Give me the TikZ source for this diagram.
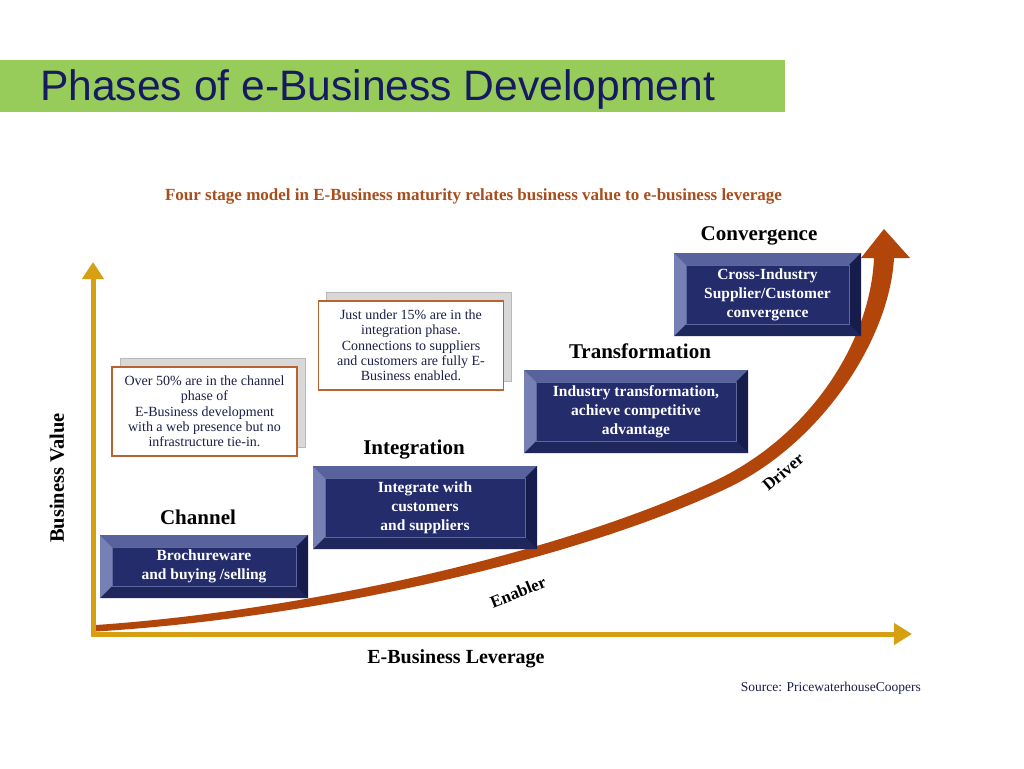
\documentclass[tikz,border=0pt]{standalone}
\usepackage{fontspec}
\setmainfont{Liberation Serif}
\newfontfamily\titlefont{Liberation Sans}
\usetikzlibrary{arrows.meta,positioning,shadows}
\definecolor{barGreen}{RGB}{152,204,90}
\definecolor{titleBlue}{RGB}{22,26,96}
\definecolor{subBrown}{RGB}{168,78,28}
\definecolor{axisGold}{RGB}{214,160,18}
\definecolor{curveRust}{RGB}{178,70,10}
\definecolor{phaseFace}{RGB}{36,44,108}
\definecolor{bevTop}{RGB}{88,98,156}
\definecolor{bevLeft}{RGB}{118,128,180}
\definecolor{bevRight}{RGB}{22,28,76}
\definecolor{bevBot}{RGB}{30,38,92}
\definecolor{noteBorder}{RGB}{184,100,50}
\definecolor{noteText}{RGB}{28,30,72}
\definecolor{shadowGray}{RGB}{216,216,216}
\def \bv {12pt}
\tikzstyle{phase} = [inner sep=0,fill=phaseFace,text=white,align=center,
  font=\bfseries\fontsize{15.5}{19}\selectfont,
  path picture={
    \coordinate (nw) at (path picture bounding box.north west);
    \coordinate (ne) at (path picture bounding box.north east);
    \coordinate (sw) at (path picture bounding box.south west);
    \coordinate (se) at (path picture bounding box.south east);
    \coordinate (inw) at ([xshift=\bv,yshift=-\bv]nw);
    \coordinate (ine) at ([xshift=-\bv,yshift=-\bv]ne);
    \coordinate (isw) at ([xshift=\bv,yshift=\bv]sw);
    \coordinate (ise) at ([xshift=-\bv,yshift=\bv]se);
    \fill[bevTop] (nw) -- (ne) -- (ine) -- (inw) -- cycle;
    \fill[bevRight] (ne) -- (se) -- (ise) -- (ine) -- cycle;
    \fill[bevBot] (se) -- (sw) -- (isw) -- (ise) -- cycle;
    \fill[bevLeft] (sw) -- (nw) -- (inw) -- (isw) -- cycle;
    \draw[bevLeft!70!phaseFace,thin] (inw) rectangle (ise);
  }]
\tikzstyle{stage} = [inner sep=0,font=\bfseries\fontsize{21}{24}\selectfont]
\tikzstyle{note} = [draw=noteBorder,line width=1.3pt,fill=white,text=noteText,align=center,
  inner sep=2pt,minimum width=185pt,minimum height=89pt,
  font=\fontsize{14}{15.3}\selectfont,
  copy shadow={shadow xshift=8pt,shadow yshift=9pt,fill=shadowGray,draw=gray!55,line width=0.6pt}]
\tikzstyle{axis} = [axisGold,line width=5pt,{Triangle[width=21pt,length=17pt]}-{Triangle[width=21pt,length=18pt]}]

\begin{document}
\begin{tikzpicture}[x=1pt,y=-1pt]
  \fill[white] (0,0) rectangle (1024,768);
  \useasboundingbox (0,0) rectangle (1024,768);
  \fill[barGreen] (0,60) rectangle (785,112);
  \node[anchor=base west,inner sep=0,text=titleBlue,font=\titlefont\fontsize{42.6}{46}\selectfont] (title) at (40,100) {Phases of e-Business Development};
  \node[anchor=base,inner sep=0,text=subBrown,font=\bfseries\fontsize{17}{20}\selectfont] (subtitle) at (473.5,200) {Four stage model in E-Business maturity relates business value to e-business leverage};

  % growth arrow, widening towards its head, under the axes
  \fill[curveRust] (96,625) .. controls (299,611) and (558,555) .. (717.5,479.6)
    .. controls (812.8,433.2) and (870.5,339.5) .. (874,258) -- (861,258) -- (884,229)
    -- (910,258) -- (894,258) .. controls (889.5,340.5) and (819.2,446.8) .. (722.5,490.4)
    .. controls (562,565) and (301,619) .. (96,631.5) -- cycle;

  \coordinate (ytip) at (93,262);
  \coordinate (origin) at (93,634);
  \coordinate (xtip) at (912,634);
  \draw[axis] (ytip) -- (origin) -- (xtip);

  \node[phase,minimum width=208pt,minimum height=63pt] (chbox) at (204,566.5) {Brochureware\\and buying /selling};
  \node[phase,minimum width=224pt,minimum height=83pt] (inbox) at (425,507.5) {Integrate with\\customers\\and suppliers};
  \node[phase,minimum width=224pt,minimum height=83pt] (trbox) at (636,411.5) {Industry transformation,\\achieve competitive\\advantage};
  \node[phase,minimum width=187pt,minimum height=83pt] (cvbox) at (767.5,294.5) {Cross-Industry\\Supplier/Customer\\convergence};

  \node[stage] (chlab) at (198,517) {Channel};
  \node[stage] (inlab) at (414,450) {Integration};
  \node[stage] (trlab) at (640,351) {Transformation};
  \node[stage] (cvlab) at (759,236) {Convergence};

  \node[note] (chnote) at (204.5,411.5) {Over 50\% are in the channel\\phase of\\E-Business development\\with a web presence but no\\infrastructure tie-in.};
  \node[note] (innote) at (411,345.5) {Just under 15\% are in the\\integration phase.\\Connections to suppliers\\and customers are fully E-\\Business enabled.};

  \node[stage,rotate=90,font=\bfseries\fontsize{20.5}{24}\selectfont] (yname) at (57,478) {Business Value};
  \node[stage,font=\bfseries\fontsize{20}{24}\selectfont] (xname) at (456,659) {E-Business Leverage};
  \node[anchor=base east,inner sep=0,text=noteText,font=\fontsize{13.5}{16}\selectfont] (source) at (921,691) {Source: PricewaterhouseCoopers};
  \node[stage,rotate=40,font=\bfseries\fontsize{17}{20}\selectfont] (driver) at (783,472) {Driver};
  \node[stage,rotate=22,font=\bfseries\fontsize{17}{20}\selectfont] (enabler) at (518,592) {Enabler};
\end{tikzpicture}
\end{document}
